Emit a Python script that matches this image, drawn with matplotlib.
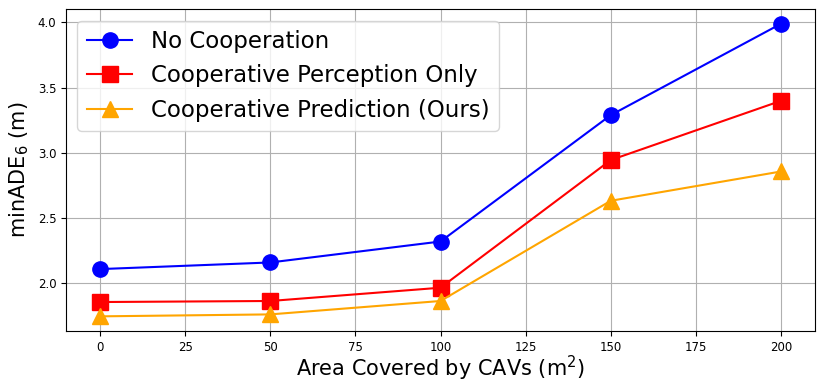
import matplotlib.pyplot as plt

area = [0, 50, 100, 150, 200]
no_coop = [2.105, 2.156, 2.317, 3.288, 3.99]
coop_perception = [1.852, 1.860, 1.962, 2.943, 3.398]
coop_prediction = [1.742, 1.757, 1.860, 2.630, 2.855]


def main():
    fig, ax = plt.subplots(figsize=(8.3, 3.8), dpi=100)
    fig.subplots_adjust(left=0.0795, right=0.982, top=0.976, bottom=0.129)

    ax.plot(area, no_coop, color='blue', marker='o', markersize=11, lw=1.5,
            label='No Cooperation')
    ax.plot(area, coop_perception, color='red', marker='s', markersize=11, lw=1.5,
            label='Cooperative Perception Only')
    ax.plot(area, coop_prediction, color='orange', marker='^', markersize=11, lw=1.5,
            label='Cooperative Prediction (Ours)')

    ax.set_xlabel('Area Covered by CAVs (m$^2$)', fontsize=15, labelpad=0)
    ax.set_ylabel('minADE$_6$ (m)', fontsize=15, labelpad=5)
    ax.tick_params(labelsize=8.5)
    ax.grid(True)
    ax.legend(loc='upper left', fontsize=16.5)

    fig.savefig('out.png', dpi=100)
    plt.close(fig)


if __name__ == '__main__':
    main()
